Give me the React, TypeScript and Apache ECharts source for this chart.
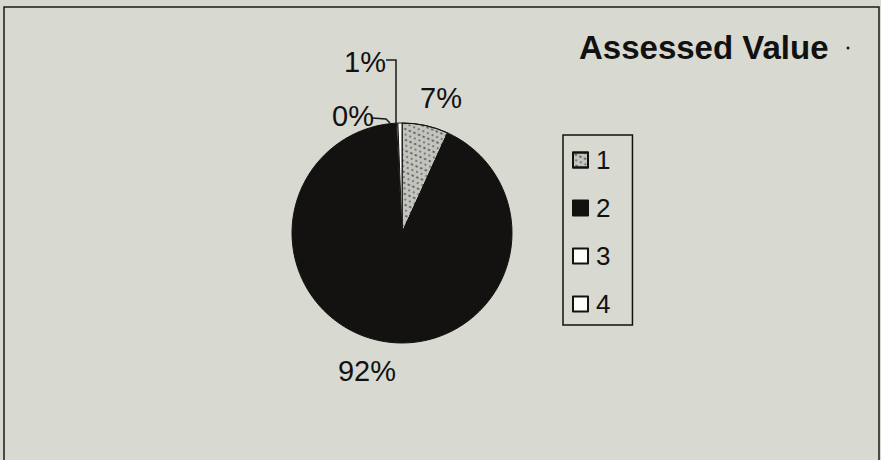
import React, { useEffect, useRef } from "react";
import * as echarts from "echarts";

const categories = ["1", "2", "3", "4"];
const values = [6.8, 92.4, 0.2, 0.6];
const sliceColors = ["#c4c4be", "#141210", "#ffffff", "#ffffff"];
const titleText = "Assessed Value";

// label anchor layout (pixels), per category
const labelAnchors = [
  { x: 441, y: 98, line: null as null | number[][] },
  { x: 367, y: 371, line: null as null | number[][] },
  { x: 353, y: 116, line: [[372, 118], [386, 119], [390, 123]] },
  { x: 365, y: 62, line: [[386, 60], [396, 60], [396, 123]] },
];

const FONT = "Arial, 'Liberation Sans', Helvetica, sans-serif";

export default function App() {
  const ref = useRef<HTMLDivElement>(null);
  useEffect(() => {
    if (!ref.current) return;
    const chart = echarts.init(ref.current, undefined, { renderer: "svg" });
    const data = categories.map((c, i) => ({
      name: c,
      value: values[i],
      itemStyle: {
        color: sliceColors[i],
        borderColor: "#141210",
        borderWidth: 1,
        decal:
          i === 0
            ? {
                symbol: "rect",
                symbolSize: 0.7,
                color: "rgba(20,20,20,0.8)",
                dashArrayX: [[2, 3], [0, 2, 3, 0]],
                dashArrayY: [2, 3],
                rotation: 0.4,
              }
            : undefined,
      },
      labelLine: { show: labelAnchors[i].line !== null },
    }));
    chart.setOption({
      animation: false,
      backgroundColor: "#d8d9d0",
      title: {
        text: titleText,
        left: 579,
        top: 31,
        padding: 0,
        textStyle: {
          fontFamily: FONT,
          fontSize: 33,
          fontWeight: "bold",
          color: "#111111",
        },
      },
      legend: {
        orient: "vertical",
        left: 563,
        top: 135,
        padding: [12, 22, 8, 9],
        itemGap: 22,
        itemWidth: 15,
        itemHeight: 15,
        icon: "rect",
        borderColor: "#111111",
        borderWidth: 1.5,
        selectedMode: false,
        data: categories,
        textStyle: {
          fontFamily: FONT,
          fontSize: 26,
          color: "#111111",
          padding: [0, 0, 0, 3],
        },
      },
      graphic: [
        {
          type: "rect",
          shape: { x: 4, y: 7, width: 875, height: 470 },
          style: { fill: "none", stroke: "#1a1a1a", lineWidth: 1.5 },
          silent: true,
        },
        {
          type: "circle",
          shape: { cx: 848, cy: 48, r: 1.5 },
          style: { fill: "#1a1a1a" },
          silent: true,
        },
      ],
      series: [
        {
          type: "pie",
          center: [402, 233],
          radius: 110,
          startAngle: 90,
          clockwise: true,
          avoidLabelOverlap: false,
          data,
          label: {
            show: true,
            position: "outside",
            fontFamily: FONT,
            fontSize: 29,
            color: "#111111",
            formatter: (p: any) => `${Math.round(p.percent)}%`,
          },
          labelLine: {
            show: true,
            lineStyle: { color: "#1a1a1a", width: 1.5 },
          },
          labelLayout: (p: any) => {
            const a = labelAnchors[p.dataIndex];
            const out: any = {
              x: a.x,
              y: a.y,
              align: "center",
              verticalAlign: "middle",
            };
            if (a.line) out.labelLinePoints = a.line;
            return out;
          },
          emphasis: { disabled: true },
        },
      ],
    });
    return () => chart.dispose();
  }, []);
  return (
    <div
      ref={ref}
      style={{ position: "fixed", left: 0, top: 0, width: 881, height: 460 }}
    />
  );
}
